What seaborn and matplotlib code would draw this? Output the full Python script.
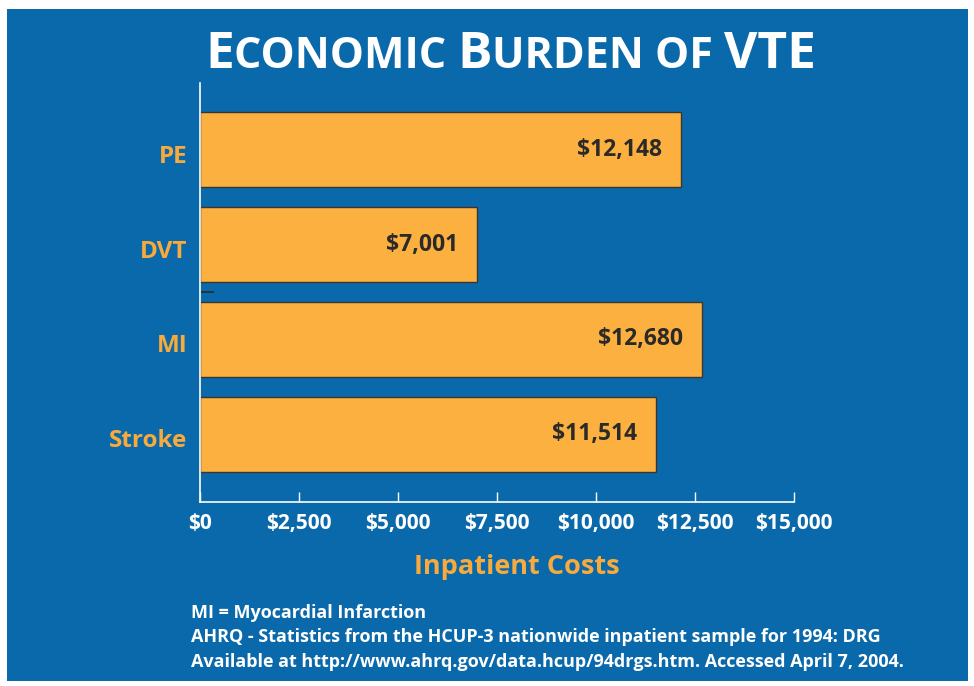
import matplotlib
matplotlib.use("Agg")
import matplotlib.pyplot as plt
import matplotlib.transforms as mtransforms
import seaborn as sns
import pandas as pd
from matplotlib.patches import Rectangle
from matplotlib.ticker import FixedLocator

categories = ["PE", "DVT", "MI", "Stroke"]
costs = [12148, 7001, 12680, 11514]
value_labels = ["$12,148", "$7,001", "$12,680", "$11,514"]
xticks = [0, 2500, 5000, 7500, 10000, 12500, 15000]
xtick_labels = ["$0", "$2,500", "$5,000", "$7,500", "$10,000", "$12,500", "$15,000"]
title_parts = [("E", True), ("CONOMIC ", False), ("B", True), ("URDEN OF ", False), ("VTE", True)]
xlabel = "Inpatient Costs"
footnotes = [
    "MI = Myocardial Infarction",
    "AHRQ - Statistics from the HCUP-3 nationwide inpatient sample for 1994: DRG",
    "Available at http://www.ahrq.gov/data.hcup/94drgs.htm. Accessed April 7, 2004.",
]

BLUE = "#0a69ab"
ORANGE = "#fbb040"
LABEL_ORANGE = "#f9aa3c"
DARK = "#2b2a29"
FONT = "Open Sans"

sns.set_theme(style="white")
plt.rcParams["font.family"] = [FONT, "DejaVu Sans"]

W, H = 974, 686
fig = plt.figure(figsize=(W / 100, H / 100), dpi=100)
fig.patch.set_facecolor("white")
fig.patches.append(Rectangle((7 / W, 1 - 681 / H), (968 - 7) / W, (681 - 9) / H,
                             transform=fig.transFigure, facecolor=BLUE, edgecolor="none", zorder=-10))

ax = fig.add_axes([200 / W, 1 - 502 / H, 594 / W, 419 / H])
ax.set_facecolor("none")

df = pd.DataFrame({"category": categories, "cost": costs})
sns.barplot(data=df, x="cost", y="category", orient="h", color=ORANGE, saturation=1,
            width=0.79, edgecolor="#3a3530", linewidth=1.0, ax=ax)

for i, (v, lab) in enumerate(zip(costs, value_labels)):
    ax.annotate(lab, xy=(v, i), xytext=(-13.5, 0), textcoords="offset points",
                ha="right", va="center", fontsize=16.5, fontweight="bold", color=DARK)

ax.set_xlim(0, 15000)
ax.set_ylim(3.716, -0.705)
ax.set_xticks(xticks)
ax.set_xticklabels(xtick_labels, fontsize=15, fontweight="bold", color="white")
ax.tick_params(axis="x", direction="in", length=7.5, width=1, color="white", pad=8, bottom=True)
ax.tick_params(axis="y", which="major", length=0, pad=9)
ax.yaxis.set_minor_locator(FixedLocator([1.5]))
ax.tick_params(axis="y", which="minor", direction="in", length=10, width=1.2, color=DARK, left=True)
offset = mtransforms.ScaledTranslation(0, -4 / 100, fig.dpi_scale_trans)
for t in ax.get_yticklabels():
    t.set_fontsize(17.5)
    t.set_fontweight("bold")
    t.set_color(LABEL_ORANGE)
    t.set_transform(t.get_transform() + offset)

for s in ["top", "right"]:
    ax.spines[s].set_visible(False)
for s in ["left", "bottom"]:
    ax.spines[s].set_visible(True)
    ax.spines[s].set_color("white")
    ax.spines[s].set_linewidth(1.2)

ax.set_ylabel("")
ax.set_xlabel(xlabel, fontsize=19.5, fontweight="bold", color=LABEL_ORANGE, va="center")
ax.xaxis.set_label_coords((517 - 200) / 594, (502 - 567) / 419)

for k, line in enumerate(footnotes):
    fig.text(191 / W, 1 - (618 + k * 24.5) / H, line, fontsize=13, fontweight="bold",
             color="white", va="baseline", ha="left")

# Small-caps title
fig.canvas.draw()
renderer = fig.canvas.get_renderer()
big, small = 37, 31
texts = []
for s, is_big in title_parts:
    t = fig.text(0, 1 - 68 / H, s.replace(" ", "\u00a0"), fontsize=big if is_big else small,
                 fontweight="bold", color="white", va="baseline", ha="left")
    texts.append(t)
widths = [t.get_window_extent(renderer).width for t in texts]
total = sum(widths)
x0 = 511 - total / 2
for t, w in zip(texts, widths):
    t.set_x(x0 / W)
    x0 += w

fig.savefig("out.png", dpi=100, facecolor=fig.get_facecolor())
